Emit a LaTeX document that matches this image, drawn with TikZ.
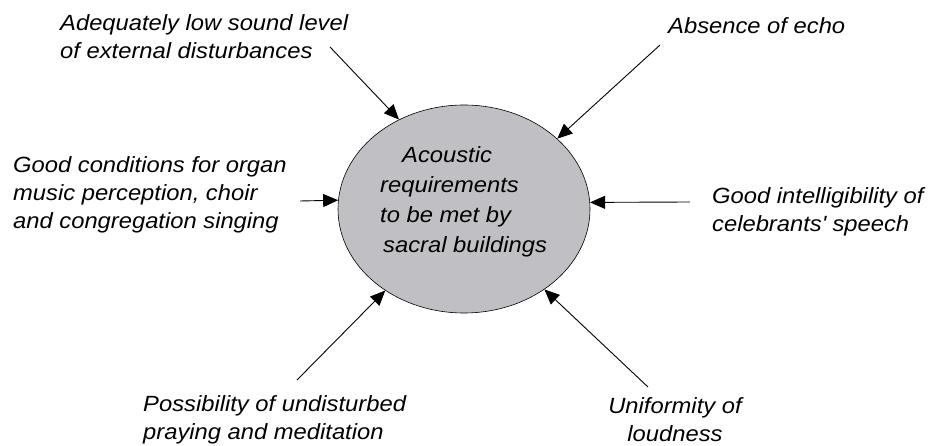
\documentclass[tikz,border=0pt]{standalone}
\usepackage{fontspec}
\setmainfont{Liberation Sans}[FakeStretch=1.08]
\usepackage{tikz}
\usetikzlibrary{shapes}
\usetikzlibrary{positioning}
\usetikzlibrary{arrows.meta}
\usepackage{xcolor}
\definecolor{reqgray}{RGB}{192,192,196}

\begin{document}
\begin{tikzpicture}[x=1pt,y=-1pt,
  lbl/.style={align=left,anchor=north west,inner sep=0pt,font=\fontsize{22}{28}\selectfont\itshape},
  arr/.style={-{Triangle[length=15pt,width=13pt]},line width=.9pt}]
\useasboundingbox (0,0) rectangle (928,446);
\node[ellipse,draw,fill=reqgray,line width=.6pt,minimum width=252,minimum height=208,inner sep=0pt] (req) at (464,209) {};
\node[lbl,font=\fontsize{22}{30}\selectfont\itshape] (reqtxt) at (380,146)
  {\hspace*{22pt}Acoustic\\requirements\\to be met by\\\hspace*{3pt}sacral buildings};
% labels round the ellipse
\node[lbl] (adq) at (60,14) {Adequately low sound level\\of external disturbances};
\node[lbl] (echo) at (668,17) {Absence of echo};
\node[lbl] (organ) at (13,156) {Good conditions for organ\\music perception, choir\\and congregation singing};
\node[lbl] (intel) at (712,187) {Good intelligibility of\\celebrants\textquotesingle{} speech};
\node[lbl] (pray) at (143,395) {Possibility of undisturbed\\praying and meditation};
\node[lbl,align=center,anchor=north] (unif) at (675,397) {Uniformity of\\loudness};
% arrow tails
\coordinate (adqe) at (330,47);
\coordinate (echoe) at (660,45);
\coordinate (organe) at (300,201);
\coordinate (intele) at (690,202);
\coordinate (praye) at (297,380);
\coordinate (unife) at (648,387);
\draw[arr] (adqe)--(req.126.2);
\draw[arr] (echoe)--(req.37.5);
\draw[arr] (organe)--(req.176.4);
\draw[arr] (intele)--(req.3.1);
\draw[arr] (praye)--(req.226.8);
\draw[arr] (unife)--(req.315);
\end{tikzpicture}
\end{document}
